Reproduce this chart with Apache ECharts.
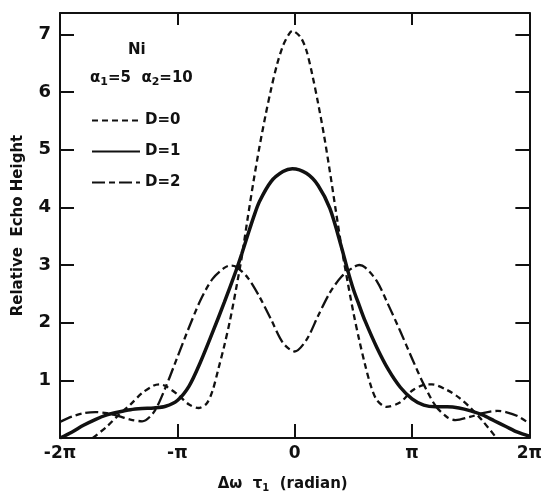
<!DOCTYPE html>
<html>
<head>
<meta charset="utf-8">
<script src="https://cdn.jsdelivr.net/npm/echarts@6/dist/echarts.min.js"></script>
<style>html,body{margin:0;padding:0;background:#fff;}#c{width:545px;height:498px;}</style>
</head>
<body>
<div id="c"></div>
<script>
// x in units of pi
var xTicks = {'-2': '-2π', '-1': '-π', '0': '0', '1': 'π', '2': '2π'};
var yTickLabels = [1, 2, 3, 4, 5, 6, 7];

var d0x = [-1.72,-1.6,-1.5,-1.4,-1.3,-1.2,-1.15,-1.1,-1.0,-0.9,-0.82,-0.75,-0.7,-0.65,-0.6,-0.55,-0.5,-0.45,-0.4,-0.35,-0.3,-0.25,-0.2,-0.15,-0.1,-0.05,-0.02,0.05,0.1,0.15,0.2,0.25,0.3,0.35,0.4,0.45,0.5,0.55,0.6,0.65,0.7,0.78,0.9,1.0,1.1,1.17,1.3,1.4,1.5,1.6,1.72];
var d0y = [0,0.2,0.4,0.58,0.78,0.91,0.93,0.9,0.76,0.58,0.52,0.6,0.82,1.2,1.6,2.05,2.58,3.15,3.82,4.46,5.05,5.58,6.06,6.48,6.8,7.0,7.06,6.95,6.72,6.3,5.8,5.25,4.62,3.95,3.3,2.72,2.18,1.7,1.27,0.9,0.66,0.54,0.62,0.82,0.92,0.93,0.83,0.7,0.52,0.3,0];

var d1x = [-2,-1.9,-1.8,-1.7,-1.6,-1.5,-1.4,-1.3,-1.2,-1.1,-1.0,-0.9,-0.8,-0.7,-0.6,-0.5,-0.45,-0.4,-0.35,-0.3,-0.2,-0.1,-0.02,0.1,0.2,0.3,0.4,0.45,0.5,0.55,0.6,0.7,0.8,0.9,1.0,1.1,1.2,1.3,1.4,1.5,1.6,1.7,1.8,1.9,2.0];
var d1y = [0,0.1,0.22,0.32,0.4,0.45,0.49,0.51,0.52,0.55,0.65,0.9,1.33,1.83,2.35,2.9,3.2,3.52,3.83,4.1,4.45,4.62,4.67,4.59,4.38,3.98,3.3,2.92,2.58,2.3,2.03,1.57,1.18,0.88,0.68,0.57,0.54,0.54,0.52,0.47,0.4,0.3,0.2,0.1,0.03];

var d2x = [-2,-1.9,-1.8,-1.7,-1.6,-1.5,-1.4,-1.3,-1.2,-1.1,-1.0,-0.9,-0.8,-0.7,-0.6,-0.55,-0.5,-0.4,-0.3,-0.2,-0.1,0,0.1,0.2,0.3,0.4,0.5,0.55,0.6,0.7,0.8,0.9,1.0,1.1,1.2,1.3,1.37,1.5,1.6,1.73,1.8,1.9,2.0];
var d2y = [0.28,0.37,0.43,0.45,0.43,0.38,0.32,0.29,0.45,0.88,1.4,1.92,2.4,2.76,2.95,2.99,2.97,2.78,2.45,2.05,1.65,1.5,1.7,2.12,2.52,2.8,2.96,3.0,2.96,2.72,2.3,1.85,1.38,0.93,0.56,0.36,0.31,0.37,0.43,0.47,0.45,0.38,0.25];

var names = ['D=0', 'D=1', 'D=2'];

function pairs(xs, ys) { return xs.map(function (x, i) { return [x, ys[i]]; }); }

var FONT = 'DejaVu Sans';
var chart = echarts.init(document.getElementById('c'), null, {renderer: 'canvas'});
var axisLine = {show: true, onZero: false, lineStyle: {color: '#111', width: 2}};
var tick = {show: true, inside: true, length: 14, lineStyle: {color: '#111', width: 2}};

chart.setOption({
  animation: false,
  backgroundColor: '#fff',
  textStyle: {fontFamily: FONT},
  grid: {left: 60, right: 14, top: 13, bottom: 48},
  title: [
    {text: 'Ni', left: 123, top: 38, textStyle: {fontFamily: FONT, fontWeight: 'bold', fontSize: 15, color: '#111'}},
    {text: 'α{s|1}=5  α{s|2}=10', left: 85, top: 64,
     textStyle: {fontFamily: FONT, fontWeight: 'bold', fontSize: 15, color: '#111',
       rich: {s: {fontFamily: FONT, fontWeight: 'bold', fontSize: 11, color: '#111', padding: [8, 0, 0, 0]}}}}
  ],
  legend: {
    orient: 'vertical', left: 86, top: 108, itemWidth: 48, itemHeight: 14, itemGap: 16,
    itemStyle: {opacity: 0},
    textStyle: {fontFamily: FONT, fontWeight: 'bold', fontSize: 15, color: '#111'},
    data: names
  },
  xAxis: [
    {type: 'value', min: -2, max: 2, interval: 1, position: 'bottom',
     axisLine: axisLine, axisTick: tick, splitLine: {show: false},
     axisLabel: {fontFamily: FONT, fontWeight: 'bold', fontSize: 17, color: '#111', margin: 7,
       formatter: function (v) { return xTicks[String(Math.round(v))]; }},
     name: 'Δω  τ{s|1}  (radian)', nameLocation: 'middle', nameGap: 37,
     nameTextStyle: {fontFamily: FONT, fontWeight: 'bold', fontSize: 15, color: '#111', padding: [0, 24, 0, 0],
       rich: {s: {fontFamily: FONT, fontWeight: 'bold', fontSize: 10, color: '#111', padding: [8, 0, 0, 0]}}}},
    {type: 'value', min: -2, max: 2, interval: 1, position: 'top',
     axisLine: axisLine, axisTick: {show: true, inside: true, length: 12, lineStyle: {color: '#111', width: 2}},
     axisLabel: {show: false}, splitLine: {show: false}}
  ],
  yAxis: [
    {type: 'value', min: 0, max: 7.37, interval: 1, position: 'left',
     axisLine: axisLine, axisTick: tick, splitLine: {show: false},
     axisLabel: {fontFamily: FONT, fontWeight: 'bold', fontSize: 18, color: '#111', margin: 9,
       formatter: function (v) { return yTickLabels.indexOf(v) >= 0 ? String(v) : ''; }},
     name: 'Relative  Echo Height', nameLocation: 'middle', nameGap: 34, nameRotate: 90,
     nameTextStyle: {fontFamily: FONT, fontWeight: 'bold', fontSize: 15, color: '#111'}},
    {type: 'value', min: 0, max: 7.37, interval: 1, position: 'right',
     axisLine: axisLine, axisTick: {show: true, inside: true, length: 14, lineStyle: {color: '#111', width: 2}},
     axisLabel: {show: false}, splitLine: {show: false}}
  ],
  series: [
    {name: names[0], type: 'line', data: pairs(d0x, d0y), symbol: 'none', smooth: 0.3,
     lineStyle: {color: '#111', width: 2.3, type: [6, 4]}, itemStyle: {color: '#111'}},
    {name: names[1], type: 'line', data: pairs(d1x, d1y), symbol: 'none', smooth: 0.3,
     lineStyle: {color: '#111', width: 3.5, type: 'solid'}, itemStyle: {color: '#111'}},
    {name: names[2], type: 'line', data: pairs(d2x, d2y), symbol: 'none', smooth: 0.3,
     lineStyle: {color: '#111', width: 2.3, type: [13, 4, 6, 4]}, itemStyle: {color: '#111'}}
  ]
});
</script>
</body>
</html>
